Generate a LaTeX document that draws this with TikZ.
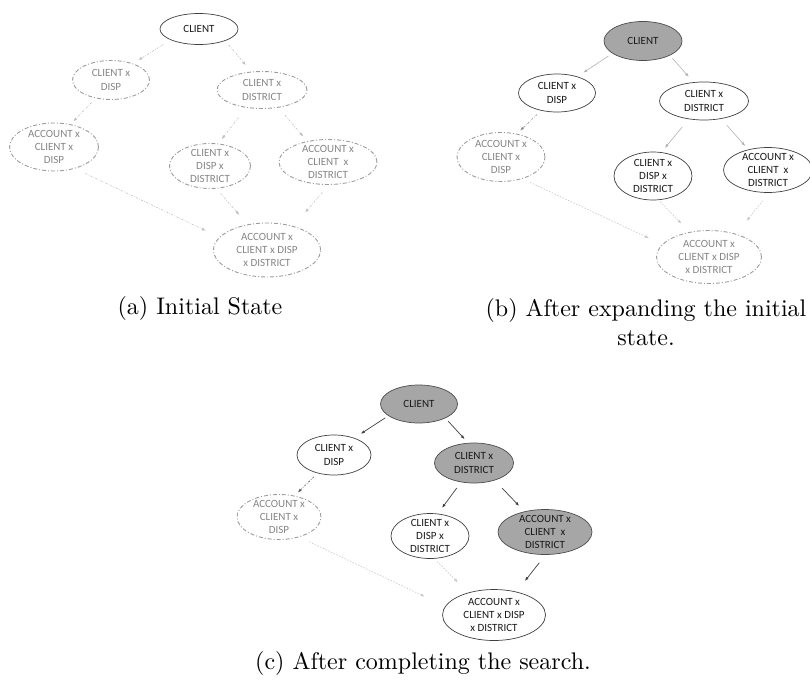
\documentclass[tikz,border=0pt]{standalone}
\usepackage{fontspec}
\newfontfamily\calib{Carlito}
\newfontfamily\capfont{lmroman10-regular.otf}
\usetikzlibrary{shapes.geometric,arrows.meta}
\definecolor{donefill}{HTML}{A6A6A6}
\definecolor{openline}{HTML}{9C9C9C}
\definecolor{opentext}{HTML}{858585}
\begin{document}
\begin{tikzpicture}[x=1pt,y=-1pt,
  state/.style={ellipse, inner sep=0pt, outer sep=0pt, line width=0.7pt},
  live/.style={state, draw=black!75, fill=white},
  done/.style={state, draw=black!70, fill=donefill},
  open/.style={state, draw=openline, line width=0.9pt,
    dash pattern=on 4pt off 2pt on 1pt off 2pt},
  txt/.style={font=\calib\fontsize{11}{13.2}\selectfont, align=center,
    inner sep=0pt, text=black!90},
  txtopen/.style={txt, text=opentext},
  tip/.style={-{Latex[length=4pt,width=3pt]}},
  eopen/.style={tip, draw=black!25, line width=0.6pt,
    dash pattern=on 2pt off 1.5pt on 0.6pt off 1.5pt},
  elight/.style={tip, draw=black!30, line width=0.6pt},
  edot/.style={tip, draw=black!22, line width=0.6pt,
    dash pattern=on 1.5pt off 1.5pt},
  edashgray/.style={tip, draw=black!45, line width=0.6pt,
    dash pattern=on 2pt off 1.5pt on 0.6pt off 1.5pt},
  edark/.style={tip, draw=black!75, line width=0.7pt},
  edashdark/.style={tip, draw=black!65, line width=0.6pt,
    dash pattern=on 2pt off 1.5pt on 0.6pt off 1.5pt},
  captext/.style={font=\capfont\fontsize{24}{28.5}\selectfont, align=center,
    inner sep=0pt}
]
\useasboundingbox (0,0) rectangle (810,682);

% ---------- (a) initial state ----------
\node[live, minimum width=78pt, minimum height=31pt, label={[txt]center:CLIENT}] (a1) at (199,29) {};
\node[open, minimum width=77pt, minimum height=39pt, label={[txtopen]center:CLIENT x\\DISP}] (a2) at (111,80) {};
\node[open, minimum width=90pt, minimum height=37pt, label={[txtopen]center:CLIENT x\\DISTRICT}] (a3) at (262,90) {};
\node[open, minimum width=89pt, minimum height=48pt, label={[txtopen]center:ACCOUNT x\\CLIENT x\\DISP}] (a4) at (54,147) {};
\node[open, minimum width=81pt, minimum height=45pt, label={[txtopen]center:CLIENT x\\DISP x\\DISTRICT}] (a5) at (210,166) {};
\node[open, minimum width=98pt, minimum height=45pt, label={[txtopen]center:ACCOUNT x\\CLIENT\ \ x\\DISTRICT}] (a6) at (328,162) {};
\node[open, minimum width=107pt, minimum height=54pt, label={[txtopen]center:ACCOUNT x\\CLIENT x DISP\\x DISTRICT}] (a7) at (267,250) {};

\draw[eopen, shorten <=9pt, shorten >=7pt] (a1.201) -- (a2.37);
\draw[eopen, shorten <=6pt, shorten >=9pt] (a1.336) -- (a3.120);
\draw[eopen, shorten <=6.5pt, shorten >=4.5pt] (a2.230) -- (a4.54);
\draw[eopen, shorten <=13pt, shorten >=6pt] (a3.228) -- (a5.70);
\draw[eopen, shorten <=10.5pt, shorten >=6.5pt] (a3.313) -- (a6.135);
\draw[eopen, shorten <=12pt, shorten >=15.5pt] (a4.314) -- (a7.165);
\draw[eopen, shorten <=7pt, shorten >=13pt] (a5.285) -- (a7.127);
\draw[eopen, shorten <=10.5pt, shorten >=18.5pt] (a6.273) -- (a7.42);

\node[captext] (capa) at (200,308) {(a) Initial State};

% ---------- (b) after expanding the initial state ----------
\node[done, minimum width=78pt, minimum height=39pt, label={[txt]center:CLIENT}] (b1) at (643,41) {};
\node[live, minimum width=77pt, minimum height=38pt, label={[txt]center:CLIENT x\\DISP}] (b2) at (557,93) {};
\node[live, minimum width=89pt, minimum height=38pt, label={[txt]center:CLIENT x\\DISTRICT}] (b3) at (704,101) {};
\node[open, minimum width=88pt, minimum height=49pt, label={[txtopen]center:ACCOUNT x\\CLIENT x\\DISP}] (b4) at (501,157) {};
\node[live, minimum width=78pt, minimum height=48pt, label={[txt]center:CLIENT x\\DISP x\\DISTRICT}] (b5) at (653,176) {};
\node[live, minimum width=89pt, minimum height=45pt, label={[txt]center:ACCOUNT x\\CLIENT\ \ x\\DISTRICT}] (b6) at (768,170) {};
\node[open, minimum width=105pt, minimum height=53pt, label={[txtopen]center:ACCOUNT x\\CLIENT x DISP\\x DISTRICT}] (b7) at (709,257) {};

\draw[elight, shorten <=5pt, shorten >=7.5pt] (b1.202) -- (b2.39);
\draw[elight, shorten <=4pt, shorten >=7.5pt] (b1.332) -- (b3.119);
\draw[edashgray, shorten <=6pt, shorten >=5pt] (b2.228) -- (b4.56);
\draw[elight, shorten <=10.5pt, shorten >=6pt] (b3.230) -- (b5.71);
\draw[elight, shorten <=9pt, shorten >=5pt] (b3.314) -- (b6.134);
\draw[edot, shorten <=9pt, shorten >=15pt] (b4.314) -- (b7.165);
\draw[edot, shorten <=2.5pt, shorten >=12pt] (b5.283) -- (b7.128);
\draw[edot, shorten <=10.5pt, shorten >=17pt] (b6.273) -- (b7.40);

\node[captext] (capb) at (646,322) {(b) After expanding the initial\\state.};

% ---------- (c) after completing the search ----------
\node[done, minimum width=77pt, minimum height=38pt, label={[txt]center:CLIENT}] (c1) at (419,404) {};
\node[live, minimum width=74pt, minimum height=40pt, label={[txt]center:CLIENT x\\DISP}] (c2) at (334,455) {};
\node[done, minimum width=79pt, minimum height=40pt, label={[txt]center:CLIENT x\\DISTRICT}] (c3) at (474,463) {};
\node[open, minimum width=84pt, minimum height=45pt, label={[txtopen]center:ACCOUNT x\\CLIENT x\\DISP}] (c4) at (279,517) {};
\node[live, minimum width=78pt, minimum height=45pt, label={[txt]center:CLIENT x\\DISP x\\DISTRICT}] (c5) at (430,536) {};
\node[done, minimum width=94pt, minimum height=45pt, label={[txt]center:ACCOUNT x\\CLIENT\ \ x\\DISTRICT}] (c6) at (545,532) {};
\node[live, minimum width=103pt, minimum height=51pt, label={[txt]center:ACCOUNT x\\CLIENT x DISP\\x DISTRICT}] (c7) at (494,615) {};

\draw[edark, shorten <=4pt, shorten >=8pt] (c1.201) -- (c2.40);
\draw[edark, shorten <=4.5pt, shorten >=5.5pt] (c1.332) -- (c3.106);
\draw[edashdark, shorten <=5.5pt, shorten >=5pt] (c2.228) -- (c4.54);
\draw[edark, shorten <=7.5pt, shorten >=7.5pt] (c3.236) -- (c5.71);
\draw[edark, shorten <=11pt, shorten >=8pt] (c3.320) -- (c6.135);
\draw[edot, shorten <=11.5pt, shorten >=23pt] (c4.315) -- (c7.170);
\draw[edot, shorten <=4.5pt, shorten >=15pt] (c5.280) -- (c7.139);
\draw[edark, shorten <=10.5pt, shorten >=14pt] (c6.272) -- (c7.46);

\node[captext] (capc) at (423,663) {(c) After completing the search.};
\end{tikzpicture}
\end{document}
